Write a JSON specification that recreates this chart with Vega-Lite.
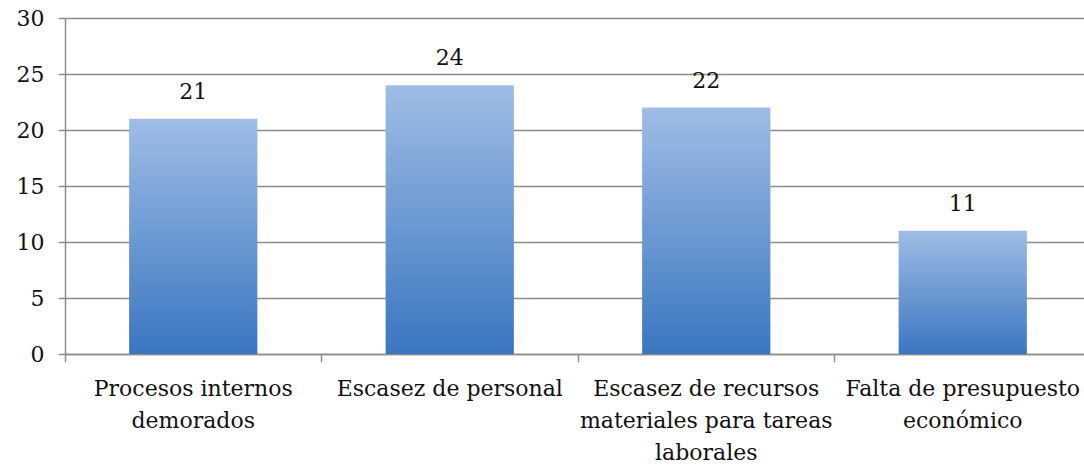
{
  "$schema": "https://vega.github.io/schema/vega-lite/v6.json",
  "autosize": "none",
  "padding": {"left": 65, "top": 18, "right": 0, "bottom": 116},
  "width": 1019,
  "height": 336,
  "background": "white",
  "config": {
    "view": {"stroke": null},
    "font": "DejaVu Serif"
  },
  "data": {
    "values": [
      {"categoria": "Procesos internos|demorados", "valor": 21},
      {"categoria": "Escasez de personal", "valor": 24},
      {"categoria": "Escasez de recursos|materiales para tareas|laborales", "valor": 22},
      {"categoria": "Falta de presupuesto|económico", "valor": 11}
    ]
  },
  "encoding": {
    "x": {
      "field": "categoria",
      "type": "nominal",
      "sort": null,
      "scale": {"range": [0, 1026], "paddingInner": 0.5, "paddingOuter": 0.25},
      "axis": {
        "title": null,
        "labelAngle": 0,
        "labelExpr": "split(datum.value, '|')",
        "labelFont": "DejaVu Serif",
        "labelFontSize": 22,
        "labelColor": "#111111",
        "labelLineHeight": 32,
        "labelPadding": 16,
        "labelBaseline": "top",
        "labelLimit": 400,
        "bandPosition": -0.5,
        "tickSize": 8,
        "tickColor": "#8c8c8c",
        "tickWidth": 1.5,
        "domainColor": "#8c8c8c",
        "domainWidth": 1.5,
        "grid": false
      }
    },
    "y": {
      "field": "valor",
      "type": "quantitative",
      "scale": {"domain": [0, 30]},
      "axis": {
        "title": null,
        "values": [0, 5, 10, 15, 20, 25, 30],
        "labelFont": "DejaVu Serif",
        "labelFontSize": 22,
        "labelColor": "#111111",
        "labelPadding": 14,
        "tickSize": 7,
        "tickColor": "#8c8c8c",
        "tickWidth": 1.5,
        "domainColor": "#8c8c8c",
        "domainWidth": 1.5,
        "grid": true,
        "gridColor": "#8c8c8c",
        "gridWidth": 1.5
      }
    }
  },
  "layer": [
    {
      "mark": {
        "type": "bar",
        "color": {
          "gradient": "linear",
          "x1": 0, "y1": 0, "x2": 0, "y2": 1,
          "stops": [
            {"offset": 0, "color": "#9fbde5"},
            {"offset": 1, "color": "#3a76c0"}
          ]
        }
      }
    },
    {
      "mark": {
        "type": "text",
        "dy": -20,
        "baseline": "alphabetic",
        "font": "DejaVu Serif",
        "fontSize": 22,
        "color": "#111111"
      },
      "encoding": {"text": {"field": "valor", "type": "quantitative"}}
    }
  ]
}
